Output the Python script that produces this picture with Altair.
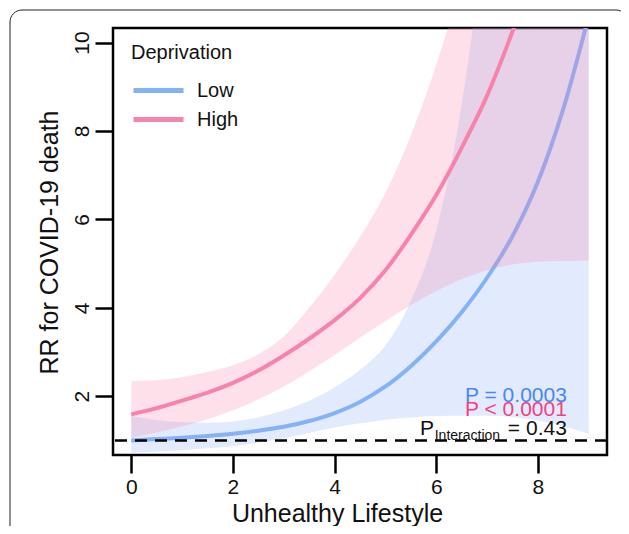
import altair as alt
import pandas as pd

# ---- data ----
x_vals = [0, 0.5, 1, 1.5, 2, 2.5, 3, 3.5, 4, 4.5, 5, 5.5, 6, 6.5, 7, 7.5, 8, 8.5, 9]

low_rr = [1.00, 1.03, 1.06, 1.10, 1.15, 1.22, 1.31, 1.44, 1.62, 1.87, 2.22, 2.68, 3.24, 3.90, 4.68, 5.62, 6.85, 8.50, 10.6]
low_lo = [0.72, 0.75, 0.78, 0.82, 0.87, 0.95, 1.05, 1.17, 1.29, 1.39, 1.47, 1.52, 1.55, 1.56, 1.56, 1.53, 1.45, 1.32, 1.15]
low_hi = [1.55, 1.46, 1.41, 1.40, 1.43, 1.52, 1.68, 1.90, 2.20, 2.60, 3.15, 4.15, 5.75, 8.6, 13.0, 19.5, 29.0, 40.0, 55.0]

high_rr = [1.59, 1.73, 1.90, 2.08, 2.30, 2.58, 2.92, 3.30, 3.72, 4.22, 4.85, 5.65, 6.55, 7.62, 8.80, 10.25, 11.9, 13.8, 16.0]
high_lo = [1.06, 1.18, 1.32, 1.48, 1.68, 1.93, 2.22, 2.56, 2.93, 3.32, 3.70, 4.06, 4.38, 4.65, 4.85, 4.98, 5.04, 5.06, 5.07]
high_hi = [2.34, 2.36, 2.43, 2.55, 2.70, 2.95, 3.35, 4.00, 4.75, 5.60, 6.60, 7.90, 9.50, 11.4, 13.7, 16.4, 19.7, 23.6, 28.3]

groups = ["Low", "High"]
x_ticks = [0, 2, 4, 6, 8]
y_ticks = [2, 4, 6, 8, 10]
ref_line = [1]

p_low = "P = 0.0003"
p_high = "P < 0.0001"
p_int_main = "P"
p_int_sub = "Interaction"
p_int_val = "= 0.43"

# ---- tables ----
low_df = pd.DataFrame({"x": x_vals, "rr": low_rr, "lo": low_lo, "hi": low_hi, "group": groups[0]})
high_df = pd.DataFrame({"x": x_vals, "rr": high_rr, "lo": high_lo, "hi": high_hi, "group": groups[1]})

FONT = "Liberation Sans"
BLUE = "#86b1f7"
PINK = "#f783ab"

xs = alt.Scale(domain=[-0.36, 9.36], nice=False, zero=False)
ys = alt.Scale(domain=[0.67, 10.33], nice=False, zero=False)

x_axis = alt.Axis(values=x_ticks, title="Unhealthy Lifestyle", grid=False, domain=False,
                  tickSize=18, tickWidth=2.5, tickColor="black",
                  labelFontSize=21, labelFont=FONT, labelColor="#111", labelPadding=3,
                  titleFontSize=25, titleFont=FONT, titleFontWeight="normal", titleColor="#111",
                  titleX=224, titleY=66, titleBaseline="alphabetic", titleAnchor="middle")
y_axis = alt.Axis(values=y_ticks, title="RR for COVID-19 death", grid=False, domain=False,
                  tickSize=18, tickWidth=2.5, tickColor="black",
                  labelFontSize=21, labelFont=FONT, labelColor="#111", labelAngle=270,
                  labelAlign="center", labelBaseline="alphabetic", labelPadding=7,
                  titleFontSize=25, titleFont=FONT, titleFontWeight="normal", titleColor="#111",
                  titleAngle=270, titleX=-56, titleY=214, titleAlign="center", titleBaseline="alphabetic")

color = alt.Color("group:N", scale=alt.Scale(domain=groups, range=[BLUE, PINK]),
                  legend=alt.Legend(title="Deprivation", orient="none", legendX=18, legendY=15,
                                    padding=0, symbolType="M-1,0L4,0", symbolStrokeWidth=5,
                                    symbolSize=400, labelFontSize=20, labelFont=FONT,
                                    titleFontSize=20, titleFont=FONT, titleFontWeight="normal",
                                    titleColor="#111", labelColor="#111",
                                    labelOffset=41, rowPadding=6, titlePadding=15))

def band(df, col):
    return alt.Chart(df).mark_area(color=col, opacity=0.25, clip=True, interpolate="monotone").encode(
        x=alt.X("x:Q", scale=xs, axis=x_axis), y=alt.Y("lo:Q", scale=ys, axis=y_axis), y2="hi:Q")

def line(df):
    return alt.Chart(df).mark_line(strokeWidth=4, clip=True, interpolate="monotone").encode(
        x=alt.X("x:Q", scale=xs, axis=x_axis), y=alt.Y("rr:Q", scale=ys, axis=y_axis), color=color)

frame = alt.Chart(pd.DataFrame({"d": [0]})).mark_rect(
    fill=None, stroke="#222", strokeWidth=1, cornerRadius=12).encode(
    x=alt.value(-103), x2=alt.value(515), y=alt.value(-18), y2=alt.value(540))

dash = alt.Chart(pd.DataFrame({"y": ref_line})).mark_rule(
    color="black", strokeWidth=2.5, strokeDash=[12, 8]).encode(y=alt.Y("y:Q", scale=ys))

def txt(s, xv, yv, col, size, align):
    d = pd.DataFrame({"x": [xv], "y": [yv], "t": [s]})
    return alt.Chart(d).mark_text(align=align, baseline="alphabetic", font=FONT,
                                  fontSize=size, color=col).encode(
        x=alt.X("x:Q", scale=xs), y=alt.Y("y:Q", scale=ys), text="t:N")

texts = (txt(p_low, 8.57, 1.86, "#4a86f0", 21, "right")
         + txt(p_high, 8.57, 1.56, "#f43f7f", 21, "right")
         + txt(p_int_main, 5.68, 1.13, "#111", 21, "left")
         + txt(p_int_sub, 5.97, 1.02, "#111", 14, "left")
         + txt(p_int_val, 8.57, 1.13, "#111", 21, "right"))

chart = alt.layer(
    frame, band(low_df, BLUE), line(low_df), band(high_df, PINK), line(high_df), dash, texts
).properties(
    width=494, height=427,
    padding={"left": 105, "top": 20, "right": 14, "bottom": 71},
    autosize=alt.AutoSizeParams(type="none"),
).configure_view(stroke="black", strokeWidth=2.5)

chart.save("out.html", embed_options={"renderer": "svg", "actions": False})
